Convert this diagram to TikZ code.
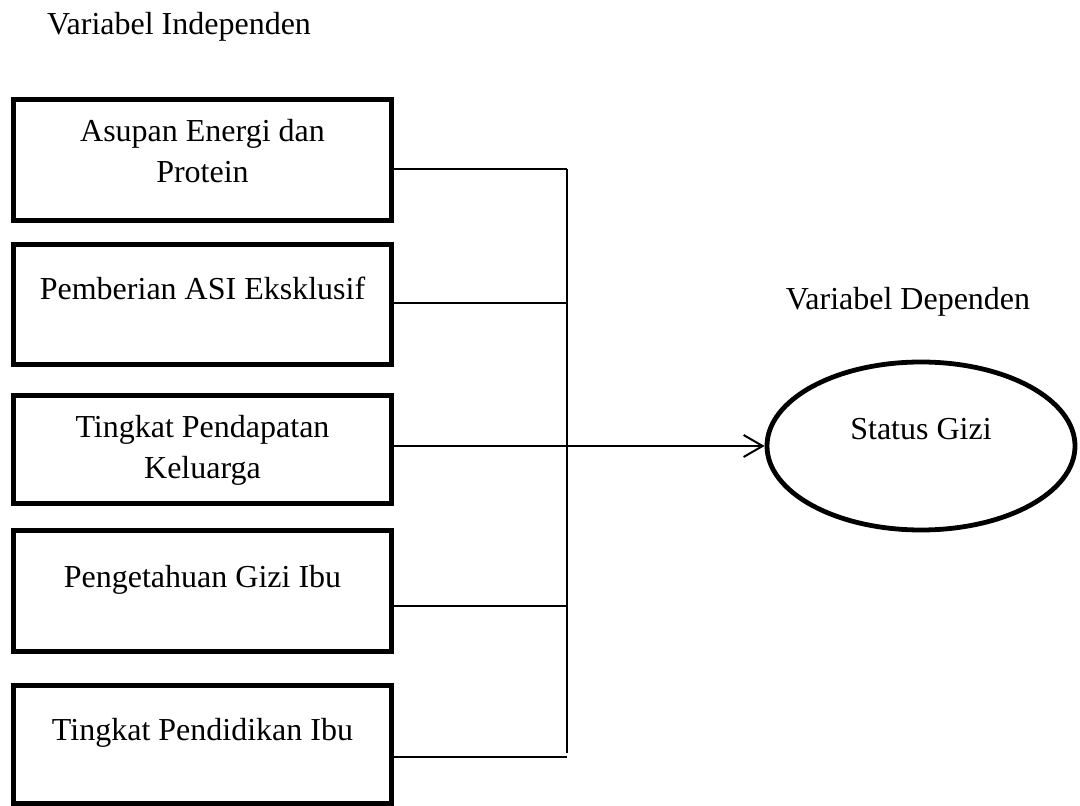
\documentclass[tikz,border=0pt]{standalone}
\usepackage{fontspec}
\setmainfont{Liberation Serif}
\usetikzlibrary{arrows.meta,shapes.geometric,calc}

\begin{document}
\begin{tikzpicture}[
  x=0.5pt, y=-0.5pt,
  varbox/.style={draw, line width=2.4pt, minimum width=189pt, inner sep=0pt},
  varname/.style={font=\fontsize{16}{20.5}\selectfont, align=center, anchor=base, inner sep=0pt},
  depnode/.style={ellipse, draw, line width=2.4pt, minimum width=154pt, minimum height=84pt, inner sep=0pt},
  busline/.style={line width=1pt},
  arrowline/.style={line width=1pt, -{Straight Barb[length=9.5pt,width=11pt]}}
]
\useasboundingbox (0,0) rectangle (1080,806);

% Titles
\node[varname] (tind) at (179,35) {Variabel Independen};
\node[varname] (tdep) at (908,310) {Variabel Dependen};

% Independent variable boxes
\node[varbox, minimum height=60.5pt] (b1) at (202.5,160) {};
\node[varbox, minimum height=60pt] (b2) at (202.5,304.5) {};
\node[varbox, minimum height=54pt] (b3) at (202.5,449.5) {};
\node[varbox, minimum height=60.5pt] (b4) at (202.5,591) {};
\node[varbox, minimum height=59pt] (b5) at (202.5,744.5) {};

% Box labels (base = last line)
\node[varname] (n1) at (202.5,183) {Asupan Energi dan\\Protein};
\node[varname] (n2) at (202.5,300) {Pemberian ASI Eksklusif};
\node[varname] (n3) at (202.5,478) {Tingkat Pendapatan\\Keluarga};
\node[varname] (n4) at (202.5,587) {Pengetahuan Gizi Ibu};
\node[varname] (n5) at (202.5,740) {Tingkat Pendidikan Ibu};

% Dependent variable
\node[depnode] (sg) at (921,446) {};
\node[varname] (nsg) at (921,439) {Status Gizi};

% Bus joints
\coordinate (j1) at (567,169);
\coordinate (j2) at (567,303);
\coordinate (j4) at (567,606);
\coordinate (j5) at (567,757);
\coordinate (jend) at (567,753);

% Connectors
\draw[busline] (j1) -- (jend);
\draw[busline] (j1 -| b1.east) -- (j1);
\draw[busline] (j2 -| b2.east) -- (j2);
\draw[busline] (j4 -| b4.east) -- (j4);
\draw[busline] (j5 -| b5.east) -- (j5);
\draw[arrowline] (b3.east |- sg.west) -- (sg.west);

\end{tikzpicture}
\end{document}
